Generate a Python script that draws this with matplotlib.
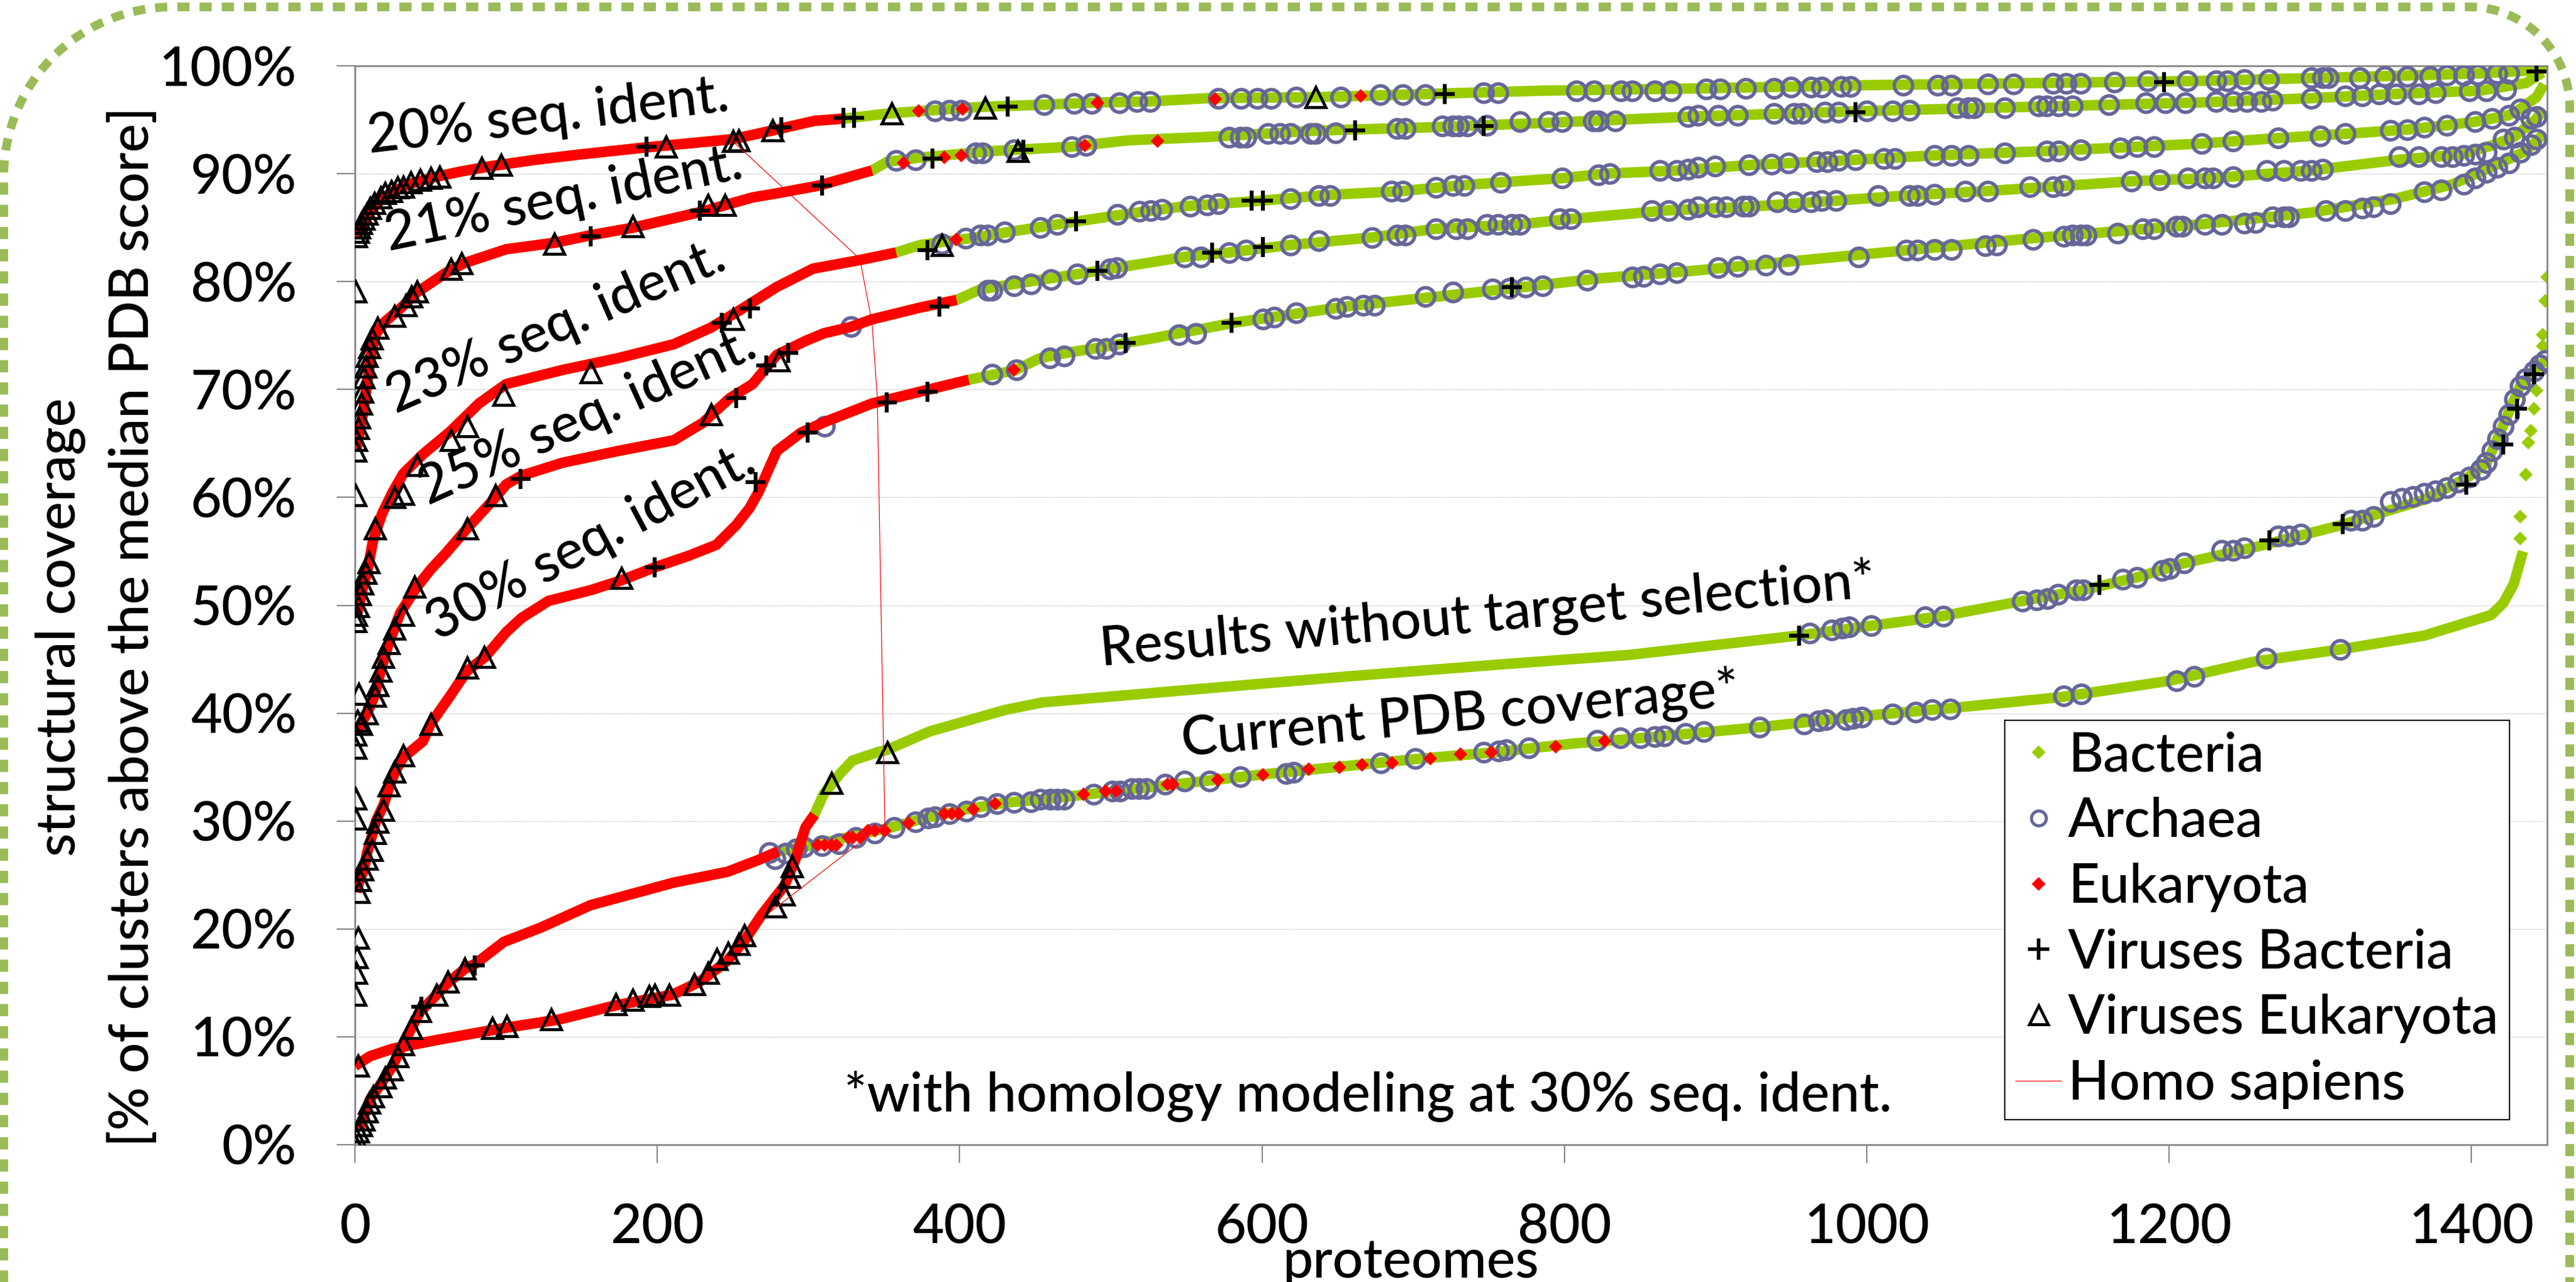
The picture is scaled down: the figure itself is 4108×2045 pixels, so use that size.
import numpy as np
import matplotlib.pyplot as plt
from matplotlib.lines import Line2D

plt.rcParams['font.family'] = ['Lato', 'DejaVu Sans']
plt.rcParams['font.weight'] = 'medium'

# sorted coverage curves, one per identity threshold (proteome index, % coverage)
x20 = [1, 3, 6, 10, 17, 25, 35, 50, 70, 90, 120, 150, 190, 220, 250, 276, 304, 323, 354, 384, 415, 456, 490,
       526, 564, 637, 711, 786, 885, 996, 1108, 1220, 1331, 1406, 1443, 1449]
y20 = [84.2, 84.8, 85.5, 86.5, 87.6, 88.3, 89.0, 89.6, 90.2, 90.7, 91.3, 91.8, 92.4, 92.8, 93.2, 94.0, 94.9, 95.1,
       95.6, 95.9, 96.2, 96.4, 96.6, 96.7, 97.0, 97.1, 97.4, 97.7, 97.9, 98.2, 98.4, 98.6, 99.0, 99.3, 99.6, 100.1]

x21 = [1, 3, 5, 7, 9, 11, 14, 20, 30, 41, 60, 72, 100, 132, 156, 184, 230, 263, 280, 307, 342, 352, 374, 422, 474,
       512, 563, 637, 711, 786, 885, 996, 1108, 1220, 1294, 1350, 1406, 1436, 1447]
y21 = [64.5, 66.0, 67.5, 69.5, 71.5, 73.5, 75.2, 76.3, 77.5, 79.0, 80.8, 81.7, 83.0, 83.6, 84.3, 85.0, 86.5, 87.8,
       88.2, 88.9, 90.3, 91.1, 91.5, 92.1, 92.5, 93.1, 93.4, 94.0, 94.3, 94.7, 95.3, 95.8, 96.2, 96.6, 97.0, 97.4,
       97.7, 98.4, 99.4]

x23 = [1, 3, 5, 8, 10, 12, 18, 25, 32, 45, 63, 82, 100, 137, 174, 211, 235, 254, 279, 303, 334, 358, 374, 406, 437,
       469, 512, 550, 600, 640, 693, 730, 758, 800, 826, 875, 922, 981, 1045, 1119, 1179, 1222, 1272, 1317, 1358,
       1384, 1402, 1424, 1432, 1443, 1448]
y23 = [49.0, 50.0, 51.5, 53.0, 54.5, 56.0, 58.5, 60.5, 62.2, 64.0, 66.1, 68.7, 70.5, 71.8, 72.9, 74.2, 75.7, 77.3,
       79.5, 81.2, 82.0, 82.7, 83.4, 84.0, 84.7, 85.4, 86.3, 87.0, 87.5, 88.0, 88.4, 88.9, 89.2, 89.6, 90.0, 90.3,
       90.8, 91.2, 91.7, 92.1, 92.5, 92.8, 93.3, 93.7, 94.1, 94.5, 94.8, 95.4, 96.0, 97.1, 98.3]

x25 = [1, 4, 8, 13, 17, 22, 26, 30, 41, 50, 60, 74, 93, 100, 110, 137, 174, 211, 230, 248, 263, 279, 298, 310, 328,
       342, 374, 398, 414, 437, 469, 505, 549, 578, 619, 673, 715, 770, 804, 868, 918, 970, 1028, 1080, 1123, 1175,
       1229, 1294, 1352, 1394, 1413, 1428, 1443, 1448]
y25 = [38.0, 39.0, 40.0, 41.6, 43.9, 46.3, 47.8, 49.3, 51.7, 53.3, 54.8, 57.1, 60.0, 61.2, 62.0, 63.2, 64.3, 65.3,
       66.9, 69.2, 70.5, 73.2, 74.5, 75.2, 75.8, 76.5, 77.6, 78.3, 79.3, 79.8, 80.5, 81.3, 82.3, 82.7, 83.4, 84.1,
       84.9, 85.3, 85.8, 86.6, 86.9, 87.4, 88.0, 88.4, 88.8, 89.3, 89.6, 90.3, 91.3, 91.8, 92.6, 93.4, 95.1, 96.0]

x30 = [1, 3, 6, 8, 11, 14, 19, 23, 27, 32, 45, 50, 63, 74, 86, 100, 110, 128, 156, 176, 198, 221, 239, 252, 261,
       267, 279, 295, 311, 342, 374, 406, 437, 453, 471, 489, 526, 582, 656, 748, 823, 885, 996, 1108, 1220, 1294,
       1350, 1387, 1413, 1436, 1447]
y30 = [23.4, 24.5, 25.5, 27.0, 28.5, 30.0, 31.5, 33.3, 34.7, 35.9, 37.4, 39.0, 41.6, 43.9, 45.2, 47.5, 48.8, 50.4,
       51.4, 52.3, 53.5, 54.6, 55.6, 57.4, 59.0, 60.5, 64.3, 66.0, 67.0, 68.7, 69.8, 70.9, 71.8, 72.9, 73.4, 73.8,
       74.7, 76.2, 77.7, 79.1, 80.3, 81.0, 82.5, 84.0, 85.3, 86.4, 87.7, 89.0, 90.6, 92.1, 93.6]

x_res = [0, 10, 25, 54, 98, 135, 172, 210, 228, 246, 258, 269, 284, 291, 298, 304, 310, 321, 329, 346, 352, 380,
         430, 455, 555, 656, 756, 843, 955, 1003, 1050, 1103, 1143, 1179, 1210, 1257, 1313, 1369, 1398, 1410, 1417,
         1424, 1432, 1441, 1449]
y_res = [7.3, 8.2, 8.9, 9.7, 10.8, 11.6, 12.9, 13.9, 15.1, 17.0, 19.0, 21.3, 24.0, 26.3, 29.4, 30.6, 32.5, 34.4,
         35.6, 36.4, 36.6, 38.3, 40.3, 41.0, 42.2, 43.4, 44.5, 45.4, 47.2, 48.1, 49.0, 50.4, 51.4, 52.6, 53.9, 55.4,
         57.4, 59.8, 61.9, 63.2, 65.4, 67.7, 70.3, 71.7, 72.7]

x_pdb = [3, 10, 17, 24.5, 31.8, 37.4, 43, 54, 61.5, 72.6, 80, 98.5, 122.5, 155.8, 211, 246.5, 267, 280, 304, 329,
         354.5, 375, 405, 430, 455, 505, 555, 606, 656, 706, 756, 807, 843, 891, 929, 962, 1010, 1058, 1129, 1200,
         1257, 1313, 1369, 1413, 1421, 1428, 1434]
y_pdb = [1.5, 4.2, 5.6, 7.2, 9.3, 10.8, 12.3, 13.9, 15.0, 16.3, 16.8, 18.8, 20.1, 22.2, 24.3, 25.3, 26.4, 27.2,
         27.8, 28.6, 29.4, 30.2, 31.1, 31.7, 32.0, 32.8, 33.6, 34.4, 35.1, 35.8, 36.4, 37.2, 37.6, 38.2, 38.7, 39.2,
         39.9, 40.5, 41.5, 43.0, 44.8, 45.9, 47.2, 49.1, 50.2, 52.0, 55.0]

curves_x = [x20, x21, x23, x25, x30, x_res, x_pdb]
curves_y = [y20, y21, y23, y25, y30, y_res, y_pdb]
# proteome index up to which each curve is made of eukaryotic genomes
euk_end = [348, 347, 372, 405, 436, 305, 280]

# Archaea (circles)
archaea = [
    # 20%
    (383.5, 95.8), (393, 95.9), (401, 95.9), (455.7, 96.4), (475.6, 96.5), (487.5, 96.5), (505.7, 96.6),
    (517, 96.7), (526, 96.7), (571, 97.0), (586, 97.0), (597, 97.0), (606, 97.0), (622.7, 97.1), (652, 97.1),
    (678, 97.3), (693, 97.3), (708, 97.3), (746.7, 97.5), (756, 97.5), (808, 97.7), (819.5, 97.7), (837.4, 97.7),
    (845, 97.7), (860, 97.7), (870.7, 97.7), (894, 97.85), (903, 97.85), (920, 97.9), (938.7, 97.9), (950, 98.0),
    (963, 98.0), (970, 98.0), (983, 98.1), (989, 98.1), (1024, 98.2), (1046.7, 98.2), (1056, 98.2), (1080, 98.3),
    (1097, 98.3), (1123, 98.4), (1132, 98.4), (1141.6, 98.4), (1164, 98.5), (1186, 98.6), (1212, 98.6),
    (1231, 98.6), (1238.4, 98.6), (1249.5, 98.7), (1266, 98.7), (1294.2, 98.9), (1301.7, 98.9), (1305.4, 98.9),
    (1326, 98.9), (1342.6, 99.0), (1357.5, 99.0), (1372.4, 99.0), (1383.6, 99.1), (1394.8, 99.1), (1404, 99.2),
    (1417, 99.3), (1424.6, 99.3),
    # 21%
    (358.1, 91.2), (370.8, 91.3), (410.5, 91.9), (415.3, 91.9), (435.9, 92.2), (474, 92.5), (483.5, 92.6),
    (578, 93.4), (585.7, 93.4), (589.4, 93.4), (604, 93.7), (611.6, 93.7), (619, 93.7), (632, 93.7),
    (635.6, 93.7), (648.6, 93.8), (689.3, 94.2), (694.9, 94.2), (719, 94.4), (726.4, 94.4), (730, 94.4),
    (735.6, 94.4), (748.5, 94.5), (770.8, 94.8), (789.3, 94.8), (798.5, 94.8), (819, 94.9), (822.6, 94.9),
    (833.7, 94.9), (881.8, 95.3), (888.4, 95.4), (901.5, 95.4), (914.5, 95.4), (938.7, 95.6), (951.7, 95.6),
    (957.3, 95.6), (972, 95.7), (981.5, 95.7), (1000, 95.8), (1016.9, 95.8), (1028, 95.9), (1059.7, 96.1),
    (1067, 96.1), (1070.8, 96.1), (1091.3, 96.1), (1113.7, 96.3), (1119.2, 96.3), (1126.7, 96.3), (1136, 96.3),
    (1160, 96.4), (1184.4, 96.6), (1197.4, 96.6), (1210.5, 96.6), (1231, 96.7), (1242, 96.7), (1251.4, 96.7),
    (1260.7, 96.7), (1268.2, 96.8), (1294.2, 97.0), (1316.6, 97.2), (1327.7, 97.2), (1339, 97.4), (1350, 97.4),
    (1365, 97.4), (1376, 97.5), (1398.5, 97.7), (1409.6, 97.7), (1422.7, 97.8),
    # 23%
    (388.3, 83.5), (404.1, 84.0), (413.7, 84.3), (418.4, 84.3), (429.5, 84.6), (453.3, 85.0), (464.5, 85.3),
    (504.2, 86.2), (519, 86.5), (526.4, 86.6), (533.8, 86.7), (552.3, 87.0), (563.5, 87.1), (571, 87.2),
    (619, 87.7), (637.5, 88.0), (644.9, 88.0), (685.6, 88.4), (693, 88.4), (715.2, 88.7), (726.3, 88.9),
    (733.7, 88.9), (757.8, 89.2), (798.5, 89.6), (822.6, 89.9), (830, 90.0), (863.3, 90.3), (874.4, 90.3),
    (881.8, 90.4), (888.4, 90.6), (899.6, 90.7), (921.9, 90.8), (936.8, 90.9), (948, 91.0), (966.6, 91.1),
    (974, 91.1), (981.5, 91.2), (992.7, 91.3), (1011, 91.4), (1018.7, 91.4), (1044.8, 91.7), (1056, 91.7),
    (1067, 91.7), (1091.3, 91.9), (1119.2, 92.1), (1126.7, 92.1), (1141.6, 92.2), (1167.6, 92.4),
    (1178.8, 92.5), (1190, 92.5), (1221.6, 92.8), (1242, 93.0), (1272, 93.3), (1299.8, 93.5), (1316.6, 93.7),
    (1346.4, 94.0), (1357.5, 94.1), (1368.7, 94.3), (1383.6, 94.5), (1402.2, 94.8), (1413.4, 95.1),
    (1424.5, 95.4), (1432, 96.0),
    # 25%
    (328, 75.8), (418.4, 79.2), (421.6, 79.2), (435.9, 79.6), (447, 79.8), (460.5, 80.2), (478, 80.7),
    (499.4, 81.2), (504.1, 81.3), (548.6, 82.3), (559.7, 82.3), (578.2, 82.7), (589.4, 82.9), (619, 83.4),
    (637.5, 83.8), (672.6, 84.1), (689.3, 84.3), (694.9, 84.3), (715.2, 84.9), (728.2, 84.9), (735.6, 84.9),
    (748.5, 85.3), (756, 85.3), (765.2, 85.3), (770.8, 85.3), (796.7, 85.8), (804.1, 85.8), (857.7, 86.6),
    (868.8, 86.6), (881.8, 86.7), (888.4, 86.9), (899.6, 86.9), (907, 86.9), (918.2, 87.0), (922, 87.0),
    (940.5, 87.4), (951.7, 87.4), (962.9, 87.4), (970.3, 87.5), (979.6, 87.5), (1007.6, 88.0), (1028, 88.0),
    (1033.6, 88.0), (1044.8, 88.1), (1065.3, 88.4), (1080.2, 88.4), (1108, 88.8), (1123, 88.8),
    (1130.4, 88.9), (1175, 89.3), (1193.7, 89.4), (1212.3, 89.6), (1223.5, 89.6), (1229, 89.6), (1242, 89.7),
    (1264.4, 90.3), (1275.6, 90.3), (1286.8, 90.3), (1294.2, 90.3), (1301.7, 90.4), (1352, 91.6), (1365, 91.6),
    (1379.9, 91.6), (1387.3, 91.6), (1394.8, 91.7), (1402.2, 91.8), (1409.6, 92.0), (1420.8, 93.2),
    (1428.3, 93.4), (1439.4, 95.1), (1443, 95.3),
    # 30%
    (310.5, 66.6), (421.6, 71.4), (437.5, 71.8), (459.7, 72.9), (469.2, 73.1), (489.8, 73.8), (496.8, 73.8),
    (505.7, 74.2), (545, 75.1), (556, 75.2), (600.5, 76.5), (607.9, 76.7), (622.7, 77.1), (648.6, 77.5),
    (656, 77.7), (667.1, 77.8), (674.5, 77.8), (707.8, 78.6), (726.3, 79.0), (752.2, 79.3), (763.4, 79.4),
    (774.5, 79.5), (785.6, 79.6), (815.2, 80.1), (844.8, 80.4), (852.2, 80.5), (863.3, 80.7), (874.4, 80.8),
    (901.5, 81.3), (914.5, 81.4), (933.1, 81.5), (948, 81.6), (994.5, 82.3), (1026.2, 82.9), (1033.6, 82.9),
    (1044.8, 83.0), (1056, 83.0), (1078.3, 83.3), (1085.7, 83.4), (1110, 83.9), (1130.4, 84.2), (1136, 84.3),
    (1141.6, 84.3), (1145.3, 84.3), (1165.8, 84.5), (1182.5, 84.9), (1190, 84.9), (1204.9, 85.1),
    (1208.6, 85.1), (1223.5, 85.3), (1234.7, 85.3), (1249.5, 85.4), (1257, 85.5), (1268.2, 86.0),
    (1275.6, 86.0), (1279.3, 86.0), (1303.5, 86.6), (1316.6, 86.6), (1327.7, 86.8), (1335.2, 86.9),
    (1346.4, 87.2), (1368.7, 88.3), (1379.9, 88.5), (1394.8, 89.0), (1402.2, 89.6), (1409.6, 90.1),
    (1417, 90.6), (1424.5, 91.0), (1432, 92.0), (1439.4, 92.7), (1443, 93.2),
    # results without target selection
    (962.3, 47.4), (976.6, 47.7), (983.7, 47.9), (988.5, 48.0), (1002.8, 48.1), (1038.5, 48.9), (1050.4, 49.0),
    (1102.7, 50.4), (1112.2, 50.5), (1119.4, 50.6), (1126.5, 51.0), (1138.4, 51.4), (1143.2, 51.4),
    (1169.4, 52.4), (1178.9, 52.6), (1195.5, 53.2), (1200.3, 53.4), (1209.8, 53.9), (1234.7, 55.1), (1242, 55.1),
    (1249.5, 55.3), (1272, 56.4), (1279.3, 56.4), (1286.8, 56.6), (1320.3, 57.9), (1327.7, 57.9),
    (1335.2, 58.2), (1346.4, 59.6), (1353.8, 59.9), (1361.3, 60.1), (1368.7, 60.4), (1376.1, 60.6),
    (1383.6, 60.9), (1391, 61.4), (1398.5, 61.9), (1405.9, 62.6), (1409.6, 63.2), (1413.4, 64.3),
    (1417.1, 65.4), (1420.8, 66.6), (1424.5, 67.7), (1428.3, 69.1), (1432, 70.3), (1435.7, 71.0),
    (1441.3, 71.7), (1445, 72.3), (1448.7, 72.7),
    # current PDB coverage
    (274.3, 27.1), (278, 26.5), (285, 27.0), (292, 27.4), (297, 27.6), (309, 27.7), (320.2, 27.9),
    (331.3, 28.5), (344, 28.9), (356.7, 29.4), (371, 29.9), (378.9, 30.3), (383.7, 30.4), (393.2, 30.7),
    (404.3, 30.9), (413.8, 31.3), (424.9, 31.6), (436, 31.7), (447.1, 31.8), (453.5, 32.0), (459.8, 32.0),
    (464.6, 32.0), (469.3, 32.0), (488.4, 32.5), (501.1, 32.8), (505.8, 32.8), (513.8, 33.0), (518.5, 33.0),
    (523.3, 33.0), (536, 33.4), (548.7, 33.7), (565.5, 33.7), (585.6, 34.1), (615.8, 34.4), (620.8, 34.5),
    (678.6, 35.4), (701.2, 35.8), (746.4, 36.4), (756.5, 36.5), (761.5, 36.6), (776.6, 36.8), (821.8, 37.5),
    (836.8, 37.7), (850.4, 37.7), (860, 37.8), (865.9, 37.9), (880.2, 38.1), (892.1, 38.3), (929, 38.7),
    (958.7, 39.0), (968.2, 39.3), (973, 39.4), (986.1, 39.4), (990.9, 39.5), (996.8, 39.6), (1017, 39.9),
    (1032.5, 40.1), (1043.2, 40.3), (1055.1, 40.4), (1130.1, 41.6), (1142, 41.8), (1205, 43.0),
    (1216.5, 43.4), (1264, 45.1), (1313, 45.9),
]

# Eukaryota points lying on the bacterial / archaeal parts of the curves
eukaryota = [
    (372.8, 95.8), (402, 96.0), (491, 96.6), (569, 96.9), (665.2, 97.2),
    (362.9, 91.0), (389.9, 91.5), (401, 91.7), (482.7, 92.6), (530.9, 93.0),
    (397.8, 83.9), (435.9, 71.8),
    (305.9, 27.8), (310.6, 27.8), (315.4, 27.8), (318.6, 27.8), (326.5, 28.5), (329.4, 28.5), (334.5, 28.5),
    (339.2, 29.1), (344, 29.1), (350.3, 29.1), (366.2, 29.8), (390, 30.7), (394.8, 30.7), (399.5, 30.7),
    (409, 31.1), (423.3, 31.6), (482.1, 32.5), (496.3, 32.8), (503.5, 32.8), (537.6, 33.4), (540.8, 33.4),
    (570.6, 33.8), (600.7, 34.3), (630.9, 34.8), (651, 35.0), (666, 35.2), (686.1, 35.4), (711.2, 35.8),
    (731.3, 36.2), (751.4, 36.4), (794.1, 36.9), (826.8, 37.4),
]

# isolated Bacteria at the very end of the PDB curve
bacteria = [(1432, 56.2), (1432, 58.2), (1435.7, 62.1), (1437.6, 65.1), (1439.4, 66.2), (1441.3, 68.2),
            (1443, 69.9), (1446.9, 74.0), (1446.9, 75.1), (1448.7, 78.2), (1449.9, 80.4)]

# Viruses of Bacteria (+)
viruses_bact = [
    (192.8, 92.5), (282, 94.3), (323.2, 95.2), (330.3, 95.2), (431.9, 96.2), (720.8, 97.4), (1196.7, 98.5),
    (1443, 99.5),
    (155.8, 84.2), (228, 86.6), (309, 88.9), (382, 91.4), (442.2, 92.2), (661.5, 94.0), (746.7, 94.4),
    (992.7, 95.7),
    (242.8, 76.2), (261.3, 77.5), (378.7, 82.9), (477, 85.6), (593, 87.5), (600.5, 87.5),
    (109.5, 61.7), (252, 69.2), (272, 72.2), (286.7, 73.4), (386.7, 77.7), (491, 81.0), (567, 82.7),
    (600.5, 83.2),
    (198.4, 53.5), (265, 61.4), (299.4, 66.0), (351.8, 68.8), (378.7, 69.8), (509.8, 74.3), (580, 76.2),
    (765.2, 79.5),
    (955, 47.2), (1153.9, 51.9), (1266.3, 56.0), (1314.7, 57.5), (1396.6, 61.2), (1420.8, 64.9),
    (1430.1, 68.2), (1441.3, 71.4),
    (44, 12.8), (79.2, 16.6),
]

# Viruses of Eukaryota (triangles)
viruses_euk = [
    (0.3, 79.1), (1, 84.2), (2, 84.6), (3, 85.0), (4, 85.4), (6, 85.8), (8, 86.3), (10, 86.8), (13, 87.3),
    (17, 87.8), (20, 88.2), (24, 88.4), (28, 88.7), (32, 88.8), (37, 89.2), (43, 89.4), (50, 89.6), (56, 89.7),
    (83.6, 90.5), (96.6, 90.8), (205.8, 92.5), (250.2, 93.0), (254, 93.1), (276.4, 94.0), (355, 95.6),
    (416.8, 96.1), (635.6, 97.1),
    (0.3, 64.3), (1, 65.3), (2, 66.4), (3, 67.4), (4, 68.7), (5, 69.8), (6, 71.1), (7, 72.1), (8, 73.1),
    (9.5, 73.9), (11.4, 74.7), (15.1, 75.7), (26.2, 76.8), (33.6, 77.8), (37.4, 78.6), (41, 79.1), (63.3, 81.2),
    (70.7, 81.7), (131.8, 83.5), (183.6, 85.1), (233.6, 87.1), (244.7, 87.1), (438.3, 92.1),
    (0.3, 60.2), (0.5, 48.5), (1, 49.1), (2, 49.9), (3.5, 51.0), (5, 52.0), (7, 53.0), (9, 54.0), (13.3, 57.1),
    (26.2, 60.0), (31.8, 60.3), (41, 63.0), (63.3, 65.3), (74.4, 66.6), (98.4, 69.5), (155.8, 71.6),
    (250.2, 76.5), (388.3, 83.4),
    (0.3, 36.8), (0.3, 38.0), (1.5, 39.3), (2.5, 41.8), (4, 39.0), (7.7, 40.0), (13.3, 41.6), (15.1, 42.6),
    (17, 43.9), (18.8, 45.2), (22.5, 46.5), (26.2, 47.8), (31.8, 49.1), (39.2, 51.7), (74.4, 57.1),
    (92.9, 60.2), (235.4, 67.7), (280.4, 72.7),
    (0.3, 13.9), (0.8, 15.9), (1.2, 17.4), (2, 19.2), (2.5, 23.4), (3.5, 24.5), (5, 25.5), (7.7, 26.5),
    (11.4, 27.3), (13.3, 28.9), (15.1, 29.9), (18.8, 31.0), (0.3, 30.2), (0.3, 32.1), (22.5, 33.3),
    (26.2, 34.6), (31.8, 36.1), (50.3, 39.0), (74.4, 44.2), (85.5, 45.2), (176.2, 52.5),
    (2.2, 7.3), (91, 10.8), (100.3, 11.0), (129.9, 11.6), (172.5, 13.0), (183.6, 13.4), (194.7, 13.8),
    (198.4, 13.9), (207.7, 13.9), (224.3, 14.9), (233.6, 15.9), (239.2, 17.2), (246.6, 17.8), (253.9, 18.6),
    (257.7, 19.4), (278, 22.1), (283.6, 23.2), (287.3, 24.8), (289.1, 25.8), (315.4, 33.5), (352, 36.4),
    (0, 0.0), (1, 0.6), (2.2, 1.2), (4, 1.8), (6, 2.3), (8, 3.1), (9.6, 3.9), (12, 4.5), (17, 5.4), (20, 6.2),
    (24.5, 7.0), (28, 8.2), (31.8, 9.3), (37.4, 10.8), (43, 12.4), (54, 13.9), (61.5, 15.1), (72.6, 16.3),
]

# Homo sapiens position on each curve
homo_x = [250, 334, 342, 345.5, 350.5, 274]
homo_y = [93.0, 82.1, 76.2, 69.3, 29.8, 21.5]

legend_labels = ['Bacteria', 'Archaea', 'Eukaryota', 'Viruses Bacteria', 'Viruses Eukaryota', 'Homo sapiens']
xtick_vals = [0, 200, 400, 600, 800, 1000, 1200, 1400]
ytick_vals = list(range(0, 101, 10))

GREEN = '#99CC00'
RED = '#FF0000'
PURPLE = '#666699'
GRAY = '#868686'
FS = 62

W, H = 4108, 2045
fig = plt.figure(figsize=(W / 100, H / 100), dpi=100)
ax = fig.add_axes([566 / W, 1 - 1826 / H, (4062 - 566) / W, (1826 - 105) / H])

for cx, cy, end in zip(curves_x, curves_y, euk_end):
    cx = np.array(cx)
    cy = np.array(cy)
    ax.plot(cx, cy, color=GREEN, lw=12, solid_capstyle='butt', zorder=2)
    m = cx <= end
    ax.plot(cx[m], cy[m], color=RED, lw=12, solid_capstyle='butt', zorder=4)

bx, by = zip(*bacteria)
ax.plot(bx, by, 'D', color=GREEN, ms=11, mew=0, zorder=2)
axx, ayy = zip(*archaea)
ax.plot(axx, ayy, 'o', mfc='none', mec=PURPLE, mew=4, ms=21, zorder=3)
ex, ey = zip(*eukaryota)
ax.plot(ex, ey, 'D', color=RED, ms=11, mew=0, zorder=4)
vx, vy = zip(*viruses_bact)
ax.plot(vx, vy, '+', color='black', mew=4.5, ms=23, zorder=5)
tx, ty = zip(*viruses_euk)
ax.plot(tx, ty, '^', mfc='none', mec='black', mew=3.4, ms=23, zorder=6)
ax.plot(homo_x, homo_y, color=RED, lw=0.9, zorder=7)

ax.set_xlim(0, 1450)
ax.set_ylim(0, 100)
ax.set_xticks(xtick_vals)
ax.set_yticks(ytick_vals)
ax.set_yticklabels([f'{v}%' for v in ytick_vals])
ax.tick_params(direction='out', length=21, width=1.5, color=GRAY, labelsize=FS, pad=46)
ax.yaxis.grid(True, color='#BEBEBE', linestyle=(0, (1, 1)), linewidth=1.0)
ax.set_axisbelow(True)
for sp in ax.spines.values():
    sp.set_color(GRAY)
    sp.set_linewidth(2)

# curve labels (baseline centre, angle)
notes = [('20% seq. ident.', 129, 93.9, 6.7),
         ('21% seq. ident.', 140, 86.2, 11.6),
         ('23% seq. ident.', 137, 74.5, 23.6),
         ('25% seq. ident.', 158, 66.2, 24.3),
         ('30% seq. ident.', 161, 54.6, 28.0),
         ('Results without target selection*', 750, 47.6, 5.1),
         ('Current PDB coverage*', 732, 38.35, 5.2)]
for txt, nx, ny, ang in notes:
    ax.text(nx, ny, txt, fontsize=FS, rotation=ang, rotation_mode='anchor',
            ha='center', va='baseline', zorder=8)
ax.text(670, 3.1, '*with homology modeling at 30% seq. ident.', fontsize=FS,
        ha='center', va='baseline', zorder=8)

handles = [
    Line2D([], [], marker='D', color=GREEN, ls='None', ms=11, mew=0),
    Line2D([], [], marker='o', mfc='none', mec=PURPLE, ls='None', ms=17, mew=3.6),
    Line2D([], [], marker='D', color=RED, ls='None', ms=11, mew=0),
    Line2D([], [], marker='+', color='black', ls='None', ms=24, mew=4),
    Line2D([], [], marker='^', mfc='none', mec='black', ls='None', ms=22, mew=3.4),
    Line2D([], [], color=RED, lw=0.9),
]
leg = ax.legend(handles, legend_labels, loc='lower right', bbox_to_anchor=(1425 / 1450, 0.023),
                fontsize=FS, frameon=True, fancybox=False, edgecolor='black', framealpha=1,
                borderpad=0.2, labelspacing=0.3, handlelength=0.85, handletextpad=0.13,
                borderaxespad=0)
leg.get_frame().set_linewidth(1.5)
leg.set_zorder(10)

# axis titles
fig.text(120 / W, 0.511, 'structural coverage', fontsize=FS, rotation=90, rotation_mode='anchor',
         ha='center', va='baseline')
fig.text(237 / W, 0.511, '[% of clusters above the median PDB score]', fontsize=FS, rotation=90,
         rotation_mode='anchor', ha='center', va='baseline')
fig.text(2250 / W, 7 / H, 'proteomes', fontsize=FS, ha='center', va='baseline')

# dashed rounded frame around the chart (pixel geometry)
L, R, T = 6, 4098, 2034
rl, rr = 270, 160
a1 = np.radians(np.linspace(180, 90, 40))
a2 = np.radians(np.linspace(90, 0, 30))
fx = np.concatenate([[L], L + rl + rl * np.cos(a1), R - rr + rr * np.cos(a2), [R]])
fy = np.concatenate([[-60], T - rl + rl * np.sin(a1), T - rr + rr * np.sin(a2), [-60]])
fig.add_artist(Line2D(fx / 100, fy / 100, transform=fig.dpi_scale_trans, color='#9BBB59',
                      lw=10, linestyle=(0, (1.4, 1.15)), dash_capstyle='butt'))

fig.savefig('out.png', dpi=100)
